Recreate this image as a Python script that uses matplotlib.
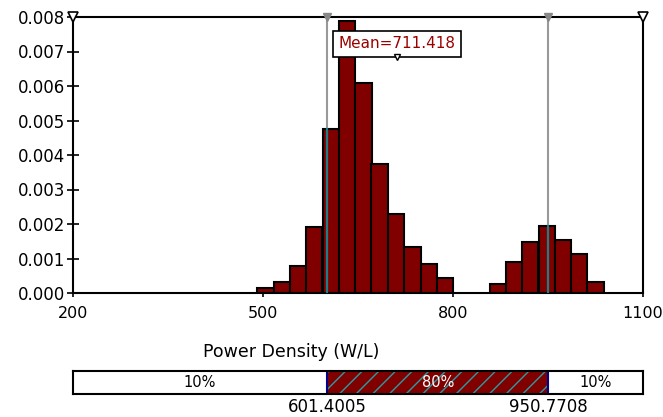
import numpy as np
import matplotlib
matplotlib.use("Agg")
import matplotlib.pyplot as plt
from matplotlib.patches import Rectangle

# ---- data ----
bin_lefts = [491, 517, 543, 568, 594, 620, 646, 671, 697, 723, 749, 774,
             858, 884, 909, 935, 961, 986, 1012]
bin_width = 25.8
densities = [0.000155, 0.00032, 0.00078, 0.0019, 0.00475, 0.00789, 0.0061,
             0.00374, 0.0023, 0.00132, 0.00083, 0.00044,
             0.00027, 0.0009, 0.00148, 0.00195, 0.00153, 0.00114, 0.00032]
mean_value = 711.418
p_low = 601.4005
p_high = 950.7708
pct_labels = ["10%", "80%", "10%"]
x_ticks = [200, 500, 800, 1100]
y_ticks = [0.000, 0.001, 0.002, 0.003, 0.004, 0.005, 0.006, 0.007, 0.008]
x_label = "Power Density (W/L)"

W, H = 663, 417
fig = plt.figure(figsize=(W / 100, H / 100), dpi=100)
plt.rcParams['font.family'] = ['DejaVu Sans']

def fx(px):
    return px / W

def fy(py):
    return 1 - py / H

ax_l, ax_r, ax_t, ax_b = 73, 643, 17, 293
ax = fig.add_axes([fx(ax_l), fy(ax_b), (ax_r - ax_l) / W, (ax_b - ax_t) / H])

bar_color = '#800000'
ax.bar(bin_lefts, densities, width=bin_width, align='edge', color=bar_color,
       edgecolor='black', linewidth=1.5, zorder=2)

ax.set_xlim(200, 1100)
ax.set_ylim(0, 0.008)
ax.set_xticks(x_ticks)
ax.set_xticklabels([str(t) for t in x_ticks], fontsize=11.5)
ax.set_yticks(y_ticks)
ax.set_yticklabels(['%.3f' % t for t in y_ticks], fontsize=12)
ax.tick_params(axis='y', direction='inout', length=9, width=1.2, pad=1)
ax.tick_params(axis='x', direction='out', length=3, width=1.2, pad=6)
for s in ax.spines.values():
    s.set_linewidth(1.5)
    s.set_color('black')

# percentile lines
lefts = np.array(bin_lefts)
for v in (p_low, p_high):
    ax.axvline(v, color='#999999', linewidth=1.5, zorder=3)
    idx = np.where((lefts <= v) & (lefts + bin_width > v))[0]
    if len(idx):
        ax.plot([v, v], [0, densities[idx[0]]], color='#1a7f86', linewidth=1.5, zorder=4)
    ax.plot([v], [0.008], marker='v', color='#888888', markersize=6,
            clip_on=False, zorder=6)

# corner triangles
for v in (200, 1100):
    ax.plot([v], [0.008], marker='v', markerfacecolor='white', markeredgecolor='black',
            markersize=6.5, markeredgewidth=1.2, clip_on=False, zorder=6)

# mean box
ax.text(mean_value, 0.00722, 'Mean=%.3f' % mean_value,
        ha='center', va='center', fontsize=11, color='#9b0000',
        bbox=dict(boxstyle='square,pad=0.35', facecolor='white', edgecolor='black', linewidth=1.2),
        zorder=7)
ax.plot([mean_value], [0.00683], marker='v', markerfacecolor='white', markeredgecolor='black',
        markersize=5, markeredgewidth=1.0, zorder=8)

# x label
fig.text(fx(203), fy(352), x_label, fontsize=12.5, ha='left', va='center')

# percentile bar
bb_t, bb_b = 371, 394
bax = fig.add_axes([fx(ax_l), fy(bb_b), (ax_r - ax_l) / W, (bb_b - bb_t) / H])
bax.set_xlim(200, 1100)
bax.set_ylim(0, 1)
bax.set_xticks([])
bax.set_yticks([])
for s in bax.spines.values():
    s.set_linewidth(1.5)
plt.rcParams['hatch.color'] = '#2a9ca3'
plt.rcParams['hatch.linewidth'] = 1.0
bax.add_patch(Rectangle((p_low, 0), p_high - p_low, 1, facecolor=bar_color,
                        edgecolor='#2a9ca3', hatch='//', linewidth=0))
bax.axvline(p_low, color='#00008b', linewidth=1.5)
bax.axvline(p_high, color='#00008b', linewidth=1.5)
bax.text((200 + p_low) / 2, 0.5, pct_labels[0], ha='center', va='center', fontsize=10.5)
bax.text((p_low + p_high) / 2, 0.5, pct_labels[1], ha='center', va='center', fontsize=10.5, color='white')
bax.text((p_high + 1100) / 2, 0.5, pct_labels[2], ha='center', va='center', fontsize=10.5)

for v in (p_low, p_high):
    fig.text(fx(ax_l + (v - 200) * (ax_r - ax_l) / 900), fy(407), '%.4f' % v,
             ha='center', va='center', fontsize=12)

fig.savefig('out.png', dpi=100)
